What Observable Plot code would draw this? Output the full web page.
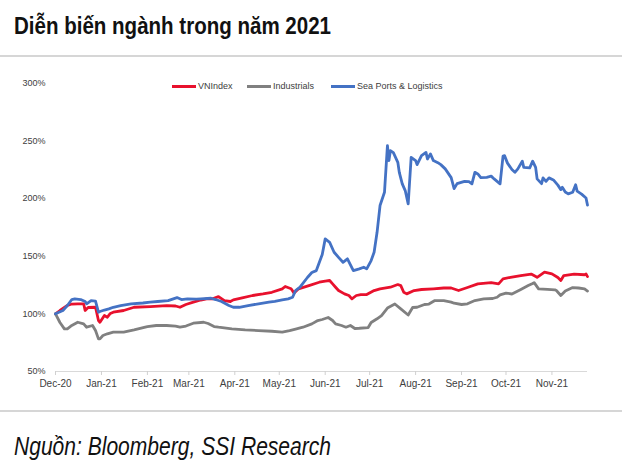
<!DOCTYPE html>
<html>
<head>
<meta charset="utf-8">
<script src="https://cdn.jsdelivr.net/npm/d3@7"></script>
<script src="https://cdn.jsdelivr.net/npm/@observablehq/plot@0.6"></script>
<style>
  html, body { margin: 0; padding: 0; background: #fff; }
  #wrap { position: relative; width: 630px; height: 475px; overflow: hidden; background: #fff; }
  #title { position: absolute; left: 14px; top: 14px; font-family: "Liberation Sans", Arial, sans-serif; font-weight: bold; font-size: 24px; line-height: 24px; color: #111; white-space: nowrap; transform-origin: 0 0; }
  .rule { position: absolute; left: 0; width: 622px; height: 2px; background: #d6d6d6; }
  #chart { position: absolute; left: 0; top: 64px; }
  #legend { position: absolute; top: 80px; left: 0; font-family: "Liberation Sans", Arial, sans-serif; font-size: 9px; color: #404040; white-space: nowrap; }
  #legend .item { position: absolute; top: 0; display: flex; align-items: center; height: 12px; }
  #legend .sw { display: inline-block; width: 24px; height: 3px; margin-right: 2px; }
  #caption { position: absolute; left: 14px; top: 434px; font-family: "Liberation Sans", Arial, sans-serif; font-style: italic; font-size: 25px; line-height: 25px; color: #111; white-space: nowrap; transform-origin: 0 0; }
</style>
</head>
<body>
<div id="wrap">
  <div id="title">Diễn biến ngành trong năm 2021</div>
  <div class="rule" style="top:55px"></div>
  <div id="chart"></div>
  <div id="legend"></div>
  <div class="rule" style="top:410px"></div>
  <div id="caption">Nguồn: Bloomberg, SSI Research</div>
</div>
<script>
const seriesNames = ["VNIndex", "Industrials", "Sea Ports & Logistics"];
const seriesColors = ["#e8112d", "#808080", "#4472c4"];
const legendLeft = [172, 247, 331];

const yTicks = [50, 100, 150, 200, 250, 300];
const monthTicks = ["2020-12-01","2021-01-01","2021-02-01","2021-03-01","2021-04-01","2021-05-01","2021-06-01","2021-07-01","2021-08-01","2021-09-01","2021-10-01","2021-11-01"];
const tickLabels = ["Dec-20","Jan-21","Feb-21","Mar-21","Apr-21","May-21","Jun-21","Jul-21","Aug-21","Sep-21","Oct-21","Nov-21"];

const vnDates = ["2020-12-01","2020-12-04","2020-12-09","2020-12-12","2020-12-16","2020-12-20","2020-12-21","2020-12-23","2020-12-28","2020-12-30","2020-12-31","2021-01-03","2021-01-05","2021-01-07","2021-01-09","2021-01-16","2021-01-23","2021-02-03","2021-02-14","2021-02-20","2021-02-23","2021-02-27","2021-03-04","2021-03-09","2021-03-13","2021-03-17","2021-03-21","2021-03-25","2021-03-29","2021-03-31","2021-04-06","2021-04-13","2021-04-20","2021-04-26","2021-05-03","2021-05-05","2021-05-09","2021-05-11","2021-05-14","2021-05-21","2021-05-28","2021-06-01","2021-06-04","2021-06-06","2021-06-08","2021-06-10","2021-06-14","2021-06-17","2021-06-19","2021-06-22","2021-06-25","2021-06-29","2021-07-04","2021-07-08","2021-07-15","2021-07-20","2021-07-22","2021-07-24","2021-07-26","2021-07-31","2021-08-05","2021-08-13","2021-08-20","2021-08-25","2021-08-30","2021-09-05","2021-09-12","2021-09-21","2021-09-26","2021-09-29","2021-10-04","2021-10-11","2021-10-18","2021-10-22","2021-10-27","2021-11-01","2021-11-05","2021-11-07","2021-11-09","2021-11-16","2021-11-23","2021-11-24","2021-11-25"];
const vnValues = [100,102.9,107.2,108.5,108.7,108.7,102.9,105.5,105.7,94.2,92.7,98.5,97.1,100.3,101.4,102.9,105.7,106.3,107.2,106.8,105.7,108.1,110.1,112.0,113.0,113.0,115.0,111.5,110.7,112.1,113.9,115.9,117.3,118.7,121.7,123.7,121.7,118.0,121.7,124.5,127.4,128.4,128.9,126.0,123.1,120.2,117.3,115.9,113.0,115.9,116.7,116.7,120.2,121.7,123.1,125.4,124.5,118.7,117.3,120.2,121.1,121.7,122.4,122.4,120.2,122.8,126.0,127.1,126.0,130.3,131.7,133.2,134.5,131.7,136.1,134.7,131.5,128.9,133.2,134.5,133.9,134.5,132.3];

const indDates = ["2020-12-01","2020-12-04","2020-12-07","2020-12-09","2020-12-12","2020-12-16","2020-12-20","2020-12-22","2020-12-26","2020-12-28","2020-12-30","2020-12-31","2021-01-02","2021-01-05","2021-01-09","2021-01-16","2021-01-23","2021-02-01","2021-02-07","2021-02-14","2021-02-20","2021-02-23","2021-02-27","2021-03-04","2021-03-11","2021-03-14","2021-03-18","2021-03-21","2021-03-30","2021-04-08","2021-04-17","2021-04-26","2021-05-03","2021-05-08","2021-05-12","2021-05-17","2021-05-23","2021-05-27","2021-05-30","2021-06-03","2021-06-06","2021-06-08","2021-06-12","2021-06-15","2021-06-18","2021-06-21","2021-06-24","2021-06-30","2021-07-02","2021-07-06","2021-07-09","2021-07-13","2021-07-18","2021-07-22","2021-07-27","2021-07-30","2021-08-02","2021-08-07","2021-08-10","2021-08-14","2021-08-20","2021-08-25","2021-08-27","2021-09-01","2021-09-05","2021-09-10","2021-09-16","2021-09-22","2021-09-25","2021-09-27","2021-10-01","2021-10-05","2021-10-11","2021-10-16","2021-10-19","2021-10-20","2021-10-23","2021-10-29","2021-11-03","2021-11-04","2021-11-07","2021-11-10","2021-11-15","2021-11-19","2021-11-23","2021-11-25"];
const indValues = [100,92.5,87.0,87.0,89.9,92.7,91.3,88.4,89.9,85.5,78.3,78.3,81.2,82.7,84.1,84.1,86.1,89.0,89.9,89.9,89.4,88.4,89.4,91.9,92.7,91.6,89.0,88.4,87.0,86.1,85.5,84.9,84.1,85.5,86.8,88.4,91.3,94.2,95.1,96.8,94.2,91.3,89.9,88.4,89.9,87.3,87.5,88.1,92.5,95.7,98.5,105.0,108.5,104.3,99.0,105.5,105.7,108.1,108.5,111.5,111.5,110.2,109.2,108.1,108.7,111.5,113.0,113.3,114.4,116.5,118.0,117.2,121.2,124.5,126.3,127.1,121.7,121.2,120.8,120.2,115.9,119.8,122.8,122.4,121.7,119.8];

const seaDates = ["2020-12-01","2020-12-06","2020-12-09","2020-12-12","2020-12-14","2020-12-18","2020-12-21","2020-12-22","2020-12-25","2020-12-28","2020-12-30","2020-12-31","2021-01-03","2021-01-06","2021-01-09","2021-01-14","2021-01-21","2021-01-29","2021-02-03","2021-02-08","2021-02-15","2021-02-21","2021-02-24","2021-02-28","2021-03-06","2021-03-09","2021-03-16","2021-03-19","2021-03-23","2021-03-28","2021-03-31","2021-04-04","2021-04-10","2021-04-17","2021-04-24","2021-04-28","2021-05-03","2021-05-07","2021-05-10","2021-05-12","2021-05-15","2021-05-20","2021-05-23","2021-05-26","2021-05-28","2021-05-30","2021-06-01","2021-06-04","2021-06-07","2021-06-10","2021-06-13","2021-06-16","2021-06-20","2021-06-24","2021-06-27","2021-06-29","2021-07-02","2021-07-04","2021-07-06","2021-07-08","2021-07-11","2021-07-12","2021-07-13","2021-07-14","2021-07-15","2021-07-17","2021-07-20","2021-07-21","2021-07-23","2021-07-25","2021-07-27","2021-07-29","2021-08-01","2021-08-02","2021-08-05","2021-08-08","2021-08-09","2021-08-11","2021-08-13","2021-08-16","2021-08-18","2021-08-21","2021-08-25","2021-08-27","2021-08-29","2021-09-03","2021-09-06","2021-09-08","2021-09-10","2021-09-12","2021-09-14","2021-09-18","2021-09-21","2021-09-23","2021-09-27","2021-09-29","2021-09-30","2021-10-02","2021-10-05","2021-10-07","2021-10-09","2021-10-12","2021-10-13","2021-10-17","2021-10-19","2021-10-21","2021-10-22","2021-10-25","2021-10-26","2021-10-28","2021-10-30","2021-11-02","2021-11-05","2021-11-07","2021-11-08","2021-11-10","2021-11-12","2021-11-15","2021-11-17","2021-11-18","2021-11-21","2021-11-24","2021-11-25"];
const seaValues = [100.0,102.9,107.2,112.4,113.0,112.4,110.7,108.7,111.5,111.1,101.4,102.0,103.3,104.3,105.7,107.2,108.7,109.4,110.1,110.7,111.5,114.1,112.4,113.0,112.8,113.0,113.5,112.4,110.7,107.2,105.7,105.7,107.2,108.7,110.1,110.9,112.1,113.0,114.4,120.2,123.1,131.5,135.8,137.5,144.5,151.4,165.0,162.0,153.4,149.0,144.7,147.7,137.5,139.0,140.4,139.0,146.2,153.4,170.7,193.9,205.4,225.7,245.8,232.9,241.5,239.8,231.4,222.7,212.7,206.9,195.3,235.7,232.9,229.4,237.2,240.0,234.3,238.7,232.9,231.1,229.4,225.7,218.1,208.6,212.9,214.9,214.6,212.7,222.7,221.3,218.1,218.4,219.4,217.0,212.7,236.8,237.2,230.7,225.1,222.7,225.7,232.4,227.0,226.6,232.4,227.0,217.0,212.9,217.9,214.9,217.9,216.1,211.6,207.7,209.7,205.6,204.0,205.4,211.9,206.4,203.8,200.4,194.3];

const parse = d3.utcParse("%Y-%m-%d");
function rows(dates, values, name) {
  return d3.zip(dates, values).map(([d, v]) => ({date: parse(d), value: v, series: name}));
}
const seriesData = [
  rows(vnDates, vnValues, seriesNames[0]),
  rows(indDates, indValues, seriesNames[1]),
  rows(seaDates, seaValues, seriesNames[2])
];
const tickDates = monthTicks.map(parse);
const labelOf = new Map(tickDates.map((d, i) => [+d, tickLabels[i]]));

const chart = Plot.plot({
  width: 630,
  height: 345,
  marginTop: 18.7,
  marginBottom: 38,
  marginLeft: 55,
  marginRight: 43,
  style: {fontFamily: "'Liberation Sans', Arial, sans-serif", color: "#404040", background: "#fff"},
  x: {type: "utc", domain: [parse("2020-12-01"), parse("2021-11-25")]},
  y: {domain: [50, 300]},
  marks: [
    Plot.ruleY([50], {stroke: "#d9d9d9", strokeWidth: 1.2}),
    Plot.axisY({ticks: yTicks, tickSize: 0, tickPadding: 10, tickFormat: d => d + "%", fontSize: 9, label: null}),
    Plot.axisX({ticks: tickDates, tickSize: 4, tickPadding: 4, stroke: "#d0d0d0", tickFormat: d => labelOf.get(+d), fontSize: 10, label: null}),
    ...seriesData.map((data, i) => Plot.line(data, {x: "date", y: "value", stroke: seriesColors[i], strokeWidth: 2.8, strokeLinejoin: "round"}))
  ]
});
document.getElementById("chart").appendChild(chart);

const legend = document.getElementById("legend");
seriesNames.forEach((name, i) => {
  const item = document.createElement("div");
  item.className = "item";
  item.style.left = legendLeft[i] + "px";
  item.innerHTML = `<span class="sw" style="background:${seriesColors[i]}"></span><span>${name}</span>`;
  legend.appendChild(item);
});

function fitWidth(id, target) {
  const el = document.getElementById(id);
  const w = el.getBoundingClientRect().width;
  if (w > 0) el.style.transform = `scaleX(${target / w})`;
}
fitWidth("title", 317);
fitWidth("caption", 317);
</script>
</body>
</html>
